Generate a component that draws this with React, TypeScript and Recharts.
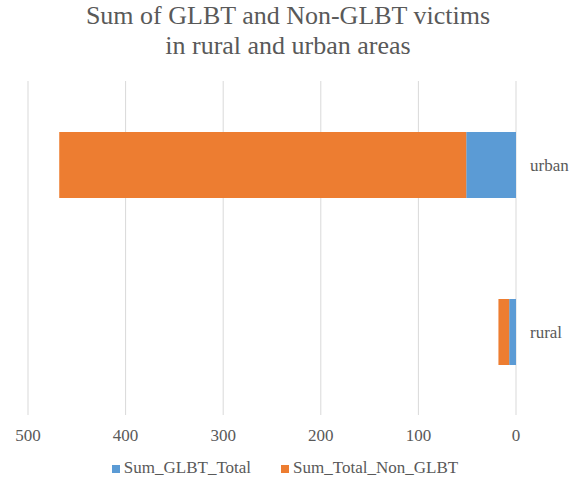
import React from 'react';
import { BarChart, Bar, XAxis, YAxis, CartesianGrid, Legend } from 'recharts';

const areas = ['urban', 'rural'];
const glbtTotal = [51, 7];
const nonGlbtTotal = [417, 11];
const xTicks = [0, 100, 200, 300, 400, 500];

const data = areas.map((area, i) => ({
  area,
  Sum_GLBT_Total: glbtTotal[i],
  Sum_Total_Non_GLBT: nonGlbtTotal[i],
}));

const font = '"Liberation Serif", "Times New Roman", serif';
const grey = '#595959';

export default function App() {
  return (
    <div style={{ position: 'absolute', left: 0, top: 0, width: 576, height: 480, background: '#fff', fontFamily: font }}>
      {/* title */}
      <div
        style={{
          position: 'absolute',
          left: 0,
          top: 1,
          width: 576,
          textAlign: 'center',
          fontFamily: font,
          fontSize: 26,
          lineHeight: '30px',
          color: grey,
        }}
      >
        Sum of GLBT and Non-GLBT victims
        <br />
        in rural and urban areas
      </div>
      <BarChart
        width={576}
        height={480}
        data={data}
        layout="vertical"
        margin={{ top: 81, right: 4, left: 28, bottom: 2 }}
        barSize={66}
        style={{ fontFamily: font }}
      >
        <CartesianGrid horizontal={false} stroke="#D9D9D9" />
        <XAxis
          type="number"
          domain={[0, 500]}
          ticks={xTicks}
          reversed
          axisLine={false}
          tickLine={false}
          tickMargin={8}
          tick={{ fill: grey, fontSize: 17, fontFamily: font }}
          height={43}
        />
        <YAxis
          type="category"
          dataKey="area"
          orientation="right"
          axisLine={false}
          tickLine={false}
          tickMargin={8}
          tick={{ fill: grey, fontSize: 17, fontFamily: font, textAnchor: 'start' }}
          width={56}
        />
        <Legend
          verticalAlign="bottom"
          align="center"
          iconType="square"
          iconSize={8}
          formatter={(value: string) => (
            <span style={{ color: grey, fontSize: 17, fontFamily: font, marginRight: 20 }}>{value}</span>
          )}
        />
        <Bar dataKey="Sum_GLBT_Total" stackId="a" fill="#5B9BD5" isAnimationActive={false} />
        <Bar dataKey="Sum_Total_Non_GLBT" stackId="a" fill="#ED7D31" isAnimationActive={false} />
      </BarChart>
    </div>
  );
}
